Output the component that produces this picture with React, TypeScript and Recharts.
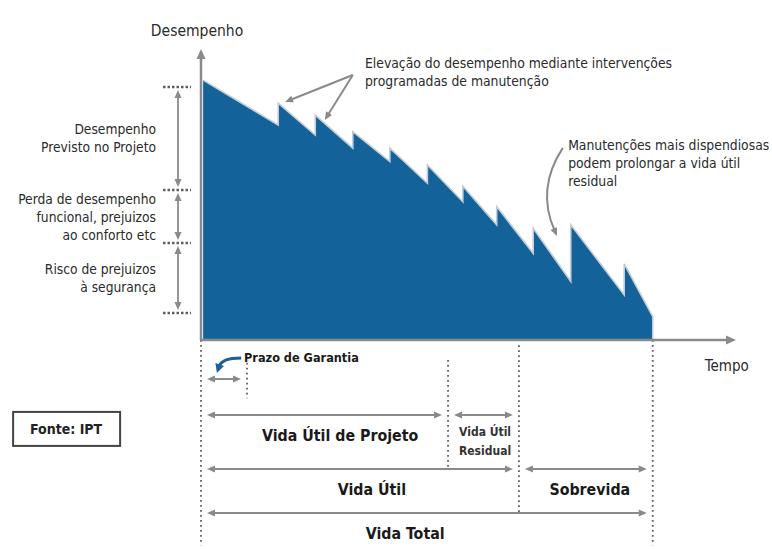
import React from "react";
import { ComposedChart, Area, XAxis, YAxis, ReferenceLine, ReferenceDot } from "recharts";

// ---------- data (time units 0..100, performance units 0..100) ----------
const tempo = [0.4, 14.6, 14.6, 21.6, 21.6, 28.7, 28.7, 35.7, 35.7, 42.8, 42.8, 49.5, 49.5, 55.9, 55.9, 62.8, 62.8, 69.9, 69.9, 80.0, 80.0, 85.4, 85.4];
const desempenho = [91.2, 75.4, 83.1, 71.9, 78.9, 67.3, 73.1, 62.6, 67.3, 55.0, 61.4, 48.5, 54.0, 40.4, 46.8, 30.4, 39.2, 20.5, 40.4, 15.8, 26.7, 8.2, 0];

const niveis = [88.8, 52.6, 34.0, 9.5];
const faixasRotulos = [
  ["Desempenho", "Previsto no Projeto"],
  ["Perda de desempenho", "funcional, prejuizos", "ao conforto etc"],
  ["Risco de prejuizos", "à segurança"],
];

const marcos = [
  { t: 0, de: 0, ate: -72 },
  { t: 8.7, de: -8, ate: -20.4 },
  { t: 46.7, de: -7, ate: -45 },
  { t: 60.1, de: -1.8, ate: -60.4 },
  { t: 85.4, de: 0, ate: -72 },
];

const garantia = { nome: "Prazo de Garantia", inicio: 0, fim: 8.7, nivel: -13.7 };

const periodos = [
  { nome: ["Vida Útil de Projeto"], inicio: 0, fim: 46.7, nivel: -26.3, rotuloEm: 26.3, destaque: true },
  { nome: ["Vida Útil", "Residual"], inicio: 46.7, fim: 60.1, nivel: -26.3, rotuloEm: 53.7, destaque: false },
  { nome: ["Vida Útil"], inicio: 0, fim: 60.1, nivel: -45.3, rotuloEm: 32.3, destaque: true },
  { nome: ["Sobrevida"], inicio: 60.1, fim: 85.4, nivel: -45.3, rotuloEm: 73.5, destaque: true },
  { nome: ["Vida Total"], inicio: 0, fim: 85.4, nivel: -60.7, rotuloEm: 38.6, destaque: true },
];

const elevacaoTexto = ["Elevação do desempenho mediante intervenções", "programadas de manutenção"];
const elevacaoAncora = { t: 31.0, p: 97.2 };
const elevacaoOrigem = { t: 28.7, p: 93.0 };
const elevacaoAlvos = [{ t: 15.9, p: 83.5 }, { t: 23.4, p: 77.2 }];

const dispendiosasTexto = ["Manutenções mais dispendiosas", "podem prolongar a vida útil", "residual"];
const dispendiosasAncora = { t: 69.4, p: 62.0 };
const dispendiosasOrigem = { t: 68.4, p: 67.4 };
const dispendiosasAlvo = { t: 67.3, p: 36.5 };

const garantiaSetaOrigem = { t: 7.6, p: -6.3 };
const garantiaSetaAlvo = { t: 3.0, p: -11.6 };

const fonte = { texto: "Fonte: IPT", t: -25.5, p: -31.2 };
const tituloY = { texto: "Desempenho", t: -0.75, p: 108.8 };
const tituloX = { texto: "Tempo", t: 99.4, p: -9.1 };

const dados = tempo.map((t, i) => ({ t, d: desempenho[i] }));

// ---------- styles ----------
const FONT = '"DejaVu Sans Condensed", "DejaVu Sans", sans-serif';
const GRAY = "#8a8a8a";
const DOT = "#5f5f5f";
const TEXT = "#2b2b2b";
const BLUE = "#13639a";

function headPts(x: number, y: number, a: number, len = 8, half = 3.5) {
  const bx = x - len * Math.cos(a);
  const by = y - len * Math.sin(a);
  const nx = -Math.sin(a) * half;
  const ny = Math.cos(a) * half;
  return `${x},${y} ${bx + nx},${by + ny} ${bx - nx},${by - ny}`;
}

const makeDoubleArrow = (inset: number, dxOff = 0, color = GRAY, sw = 2) => (p: any) => {
  const x1 = p.x1 + dxOff, x2 = p.x2 + dxOff, y1 = p.y1, y2 = p.y2;
  const a = Math.atan2(y2 - y1, x2 - x1);
  const c = Math.cos(a), s = Math.sin(a);
  const sx = x1 + inset * c, sy = y1 + inset * s;
  const ex = x2 - inset * c, ey = y2 - inset * s;
  return (
    <g>
      <line x1={sx + 4 * c} y1={sy + 4 * s} x2={ex - 4 * c} y2={ey - 4 * s} stroke={color} strokeWidth={sw} />
      <polygon points={headPts(ex, ey, a)} fill={color} />
      <polygon points={headPts(sx, sy, a + Math.PI)} fill={color} />
    </g>
  );
};

const makeArrow = (color = GRAY, sw = 2) => (p: any) => {
  const a = Math.atan2(p.y2 - p.y1, p.x2 - p.x1);
  return (
    <g>
      <line x1={p.x1} y1={p.y1} x2={p.x2 - 4 * Math.cos(a)} y2={p.y2 - 4 * Math.sin(a)} stroke={color} strokeWidth={sw} />
      <polygon points={headPts(p.x2, p.y2, a)} fill={color} />
    </g>
  );
};

const makeCurvedArrow = (ctrl: (x1: number, y1: number, x2: number, y2: number) => [number, number], color = GRAY, sw = 2, len = 8, half = 3.5) => (p: any) => {
  const [cx, cy] = ctrl(p.x1, p.y1, p.x2, p.y2);
  const a = Math.atan2(p.y2 - cy, p.x2 - cx);
  const ex = p.x2 - (len - 2) * Math.cos(a), ey = p.y2 - (len - 2) * Math.sin(a);
  return (
    <g>
      <path d={`M${p.x1},${p.y1} Q${cx},${cy} ${ex},${ey}`} fill="none" stroke={color} strokeWidth={sw} />
      <polygon points={headPts(p.x2, p.y2, a, len, half)} fill={color} />
    </g>
  );
};

const makeDotted = (x1Off: number, x2Off: number) => (p: any) => (
  <line x1={p.x1 + x1Off} y1={p.y1} x2={p.x2 + x2Off} y2={p.y2} stroke={DOT} strokeWidth={2.5} strokeDasharray="2.5 2" />
);

const vDotted = (p: any) => (
  <line x1={p.x1} y1={p.y1} x2={p.x2} y2={p.y2} stroke={DOT} strokeWidth={1.8} strokeDasharray="1.8 3.2" />
);

type TextOpts = { anchor?: string; dx?: number; dy?: number; size?: number; weight?: string; color?: string; lh?: number };
const makeText = (lines: string[], o: TextOpts = {}) => (p: any) => {
  const { anchor = "middle", dx = 0, dy = 0, size = 13.5, weight = "normal", color = TEXT, lh = 18 } = o;
  const y0 = p.cy + dy - ((lines.length - 1) * lh) / 2;
  return (
    <text textAnchor={anchor as any} fontFamily={FONT} fontSize={size} fontWeight={weight} fill={color}>
      {lines.map((l, i) => (
        <tspan key={i} x={p.cx + dx} y={y0 + i * lh + size * 0.36}>
          {l}
        </tspan>
      ))}
    </text>
  );
};

const fonteShape = (p: any) => (
  <g>
    <rect x={p.cx - 53} y={p.cy - 17} width={107} height={34} fill="#fff" stroke="#444" strokeWidth={2} />
    <text x={p.cx} y={p.cy + 5} textAnchor="middle" fontFamily={FONT} fontSize={14} fontWeight="bold" fill="#222">
      {fonte.texto}
    </text>
  </g>
);

const yHead = (p: any) => <polygon points={headPts(p.cx, p.cy - 6, -Math.PI / 2, 10, 4.5)} fill={GRAY} />;
const xHead = (p: any) => <polygon points={headPts(p.cx + 6, p.cy, 0, 10, 4.5)} fill={GRAY} />;

export default function App() {
  return (
    <div style={{ position: "absolute", left: 0, top: 0, width: 772, height: 549, background: "#fff" }}>
      <ComposedChart width={772} height={549} data={dados} margin={{ top: 55, right: 42, bottom: 179, left: 141 }}>
        <XAxis dataKey="t" type="number" domain={[0, 100]} tick={false} tickLine={false} height={30} axisLine={{ stroke: GRAY, strokeWidth: 2.5 }} />
        <YAxis type="number" domain={[0, 100]} tick={false} tickLine={false} width={60} axisLine={{ stroke: GRAY, strokeWidth: 2.5 }} />
        <Area dataKey="d" type="linear" fill={BLUE} fillOpacity={1} stroke="#c3ccd6" strokeWidth={1.6} isAnimationActive={false} dot={false} activeDot={false} />

        {/* axis arrowheads and titles */}
        <ReferenceDot x={0} y={100} r={0} ifOverflow="visible" shape={yHead} />
        <ReferenceDot x={100} y={0} r={0} ifOverflow="visible" shape={xHead} />
        <ReferenceDot x={tituloY.t} y={tituloY.p} r={0} ifOverflow="visible" shape={makeText([tituloY.texto], { size: 15.5 })} />
        <ReferenceDot x={tituloX.t} y={tituloX.p} r={0} ifOverflow="visible" shape={makeText([tituloX.texto], { size: 15 })} />

        {/* performance levels on the left */}
        {niveis.map((n, i) => (
          <ReferenceLine key={`nv${i}`} ifOverflow="visible" segment={[{ x: 0, y: n }, { x: 0, y: n }]} shape={makeDotted(-38, -10)} />
        ))}
        {niveis.slice(0, -1).map((n, i) => (
          <ReferenceLine key={`dim${i}`} ifOverflow="visible" segment={[{ x: 0, y: n }, { x: 0, y: niveis[i + 1] }]} shape={makeDoubleArrow(3, -23, GRAY, 1.8)} />
        ))}
        {faixasRotulos.map((l, i) => (
          <ReferenceDot key={`fx${i}`} x={0} y={(niveis[i] + niveis[i + 1]) / 2} r={0} ifOverflow="visible" shape={makeText(l, { anchor: "end", dx: -45, size: 13.7, lh: 18 })} />
        ))}

        {/* annotations */}
        <ReferenceDot x={elevacaoAncora.t} y={elevacaoAncora.p} r={0} ifOverflow="visible" shape={makeText(elevacaoTexto, { anchor: "start", size: 13.8, lh: 18, dy: 9 })} />
        {elevacaoAlvos.map((a, i) => (
          <ReferenceLine key={`el${i}`} ifOverflow="visible" segment={[{ x: elevacaoOrigem.t, y: elevacaoOrigem.p }, { x: a.t, y: a.p }]} shape={makeArrow(GRAY, 2)} />
        ))}
        <ReferenceDot x={dispendiosasAncora.t} y={dispendiosasAncora.p} r={0} ifOverflow="visible" shape={makeText(dispendiosasTexto, { anchor: "start", size: 13.8, lh: 18 })} />
        <ReferenceLine ifOverflow="visible" segment={[{ x: dispendiosasOrigem.t, y: dispendiosasOrigem.p }, { x: dispendiosasAlvo.t, y: dispendiosasAlvo.p }]}
          shape={makeCurvedArrow((x1, y1, x2, y2) => [Math.min(x1, x2) - 21, (y1 + y2) / 2 - 3], GRAY, 2)} />

        {/* timeline */}
        {marcos.map((m, i) => (
          <ReferenceLine key={`mc${i}`} ifOverflow="visible" segment={[{ x: m.t, y: m.de }, { x: m.t, y: m.ate }]} shape={vDotted} />
        ))}
        <ReferenceLine ifOverflow="visible" segment={[{ x: garantia.inicio, y: garantia.nivel }, { x: garantia.fim, y: garantia.nivel }]} shape={makeDoubleArrow(6)} />
        <ReferenceDot x={garantia.fim} y={garantiaSetaOrigem.p} r={0} ifOverflow="visible" shape={makeText([garantia.nome], { anchor: "start", dx: -3, size: 12.6, weight: "bold", color: "#1a1a1a" })} />
        <ReferenceLine ifOverflow="visible" segment={[{ x: garantiaSetaOrigem.t, y: garantiaSetaOrigem.p }, { x: garantiaSetaAlvo.t, y: garantiaSetaAlvo.p }]}
          shape={makeCurvedArrow((x1, y1, x2) => [x2 + 5, y1], "#1d5f98", 3, 9, 4.5)} />

        {periodos.map((pr, i) => (
          <ReferenceLine key={`pr${i}`} ifOverflow="visible" segment={[{ x: pr.inicio, y: pr.nivel }, { x: pr.fim, y: pr.nivel }]} shape={makeDoubleArrow(6)} />
        ))}
        {periodos.map((pr, i) => (
          <ReferenceDot key={`pl${i}`} x={pr.rotuloEm} y={pr.nivel} r={0} ifOverflow="visible"
            shape={pr.destaque
              ? makeText(pr.nome, { dy: 20, size: 15.8, weight: "bold", color: "#1a1a1a" })
              : makeText(pr.nome, { dy: 26, size: 12, weight: "bold", color: "#333", lh: 19 })} />
        ))}

        <ReferenceDot x={fonte.t} y={fonte.p} r={0} ifOverflow="visible" shape={fonteShape} />
      </ComposedChart>
    </div>
  );
}
